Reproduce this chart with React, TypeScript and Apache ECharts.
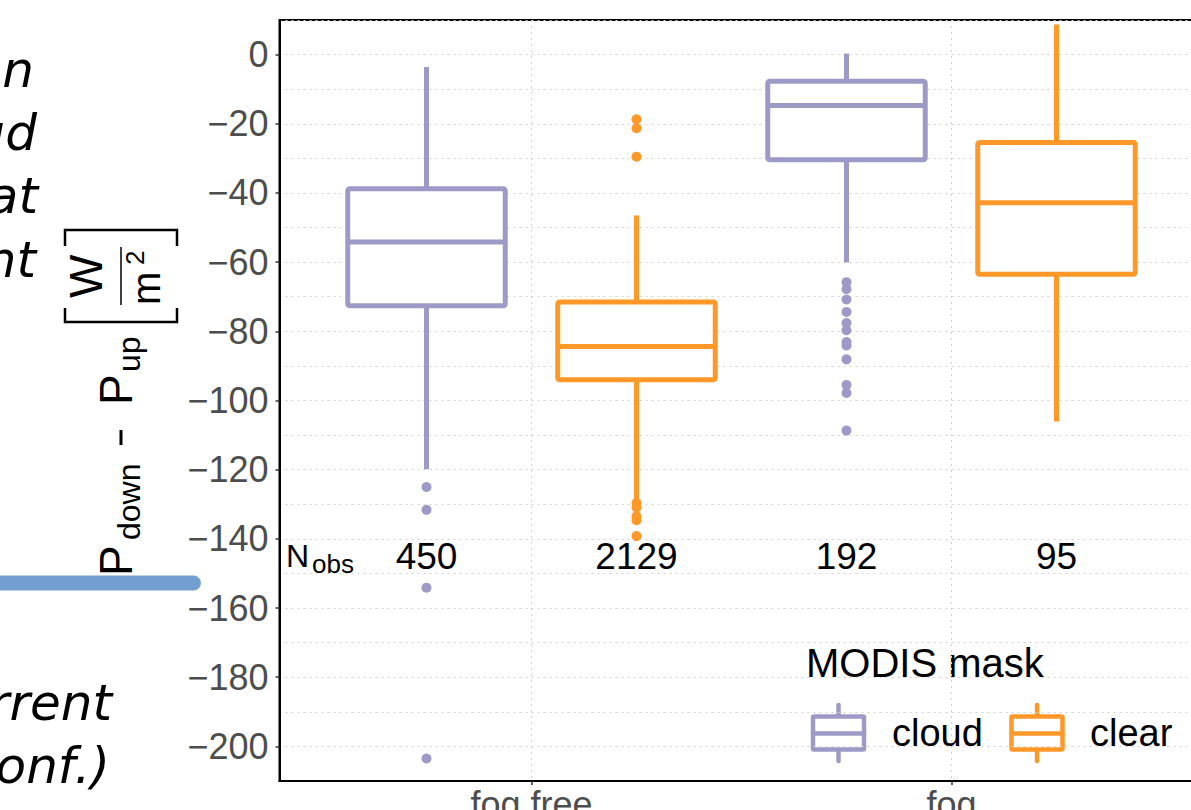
import React, { useEffect, useRef } from "react";
import * as echarts from "echarts";

// ---------- data ----------
const groups = ["fog free", "fog"];
const masks = ["cloud", "clear"];
const maskColors = ["#9e9ac8", "#fe9929"];
const dodge = [-0.25, 0.25];

// [min whisker, Q1, median, Q3, max whisker] for [fog free, fog]
const cloudStats = [
  [-119.9, -72.6, -54.2, -38.8, -3.6],
  [-60.1, -30.4, -14.7, -7.7, 0.3],
];
const clearStats = [
  [-128.5, -94.0, -84.4, -71.5, -46.5],
  [-106.1, -63.5, -42.8, -25.4, 8.7],
];
const cloudOutliers = [
  [-125.0, -131.6, -154.1, -203.5],
  [-65.8, -67.8, -70.8, -74.4, -77.6, -79.7, -83.1, -84.1, -88.1, -95.5, -97.8, -108.7],
];
const clearOutliers = [
  [-18.7, -21.3, -29.5, -129.6, -130.9, -133.5, -134.6, -139.2],
  [],
];
const cloudNobs = [450, 192];
const clearNobs = [2129, 95];
const nobsLevel = -145;

const yTicks = [-200, -180, -160, -140, -120, -100, -80, -60, -40, -20, 0];
const xTicks = [1, 2];

// ---------- helpers ----------
const SANS = '"Liberation Sans", Arial, Helvetica, sans-serif';
const HALF_BOX = 0.1875;

function fmtNum(v: number) {
  return v < 0 ? "\u2212" + Math.abs(v) : String(v);
}

function baseText(
  text: string,
  x: number,
  baseline: number,
  size: number,
  extra: any = {}
) {
  const align = extra.align || "left";
  return {
    type: "text",
    x,
    y: baseline - 0.35 * size,
    style: {
      text,
      fontSize: size,
      fontFamily: extra.fontFamily || SANS,
      fontStyle: extra.fontStyle || "normal",
      fill: extra.fill || "#000",
      align,
      textAlign: align,
      verticalAlign: "middle",
      textVerticalAlign: "middle",
    },
    silent: true,
  };
}

function boxSeries(name: string, stats: number[][], off: number, color: string) {
  return {
    name,
    type: "custom",
    xAxisIndex: 0,
    yAxisIndex: 0,
    encode: { x: 0, y: [1, 2, 3, 4, 5] },
    data: stats.map((s, g) => [g + 1 + off, ...s]),
    z: 3,
    renderItem: (_params: any, api: any) => {
      const x = api.value(0);
      const lo = api.value(1);
      const q1 = api.value(2);
      const med = api.value(3);
      const q3 = api.value(4);
      const hi = api.value(5);
      const pTL = api.coord([x - HALF_BOX, q3]);
      const pBR = api.coord([x + HALF_BOX, q1]);
      const pMed = api.coord([x, med]);
      const yHi = api.coord([x, hi])[1];
      const yLo = api.coord([x, lo])[1];
      const xc = pMed[0];
      const lw = 5;
      return {
        type: "group",
        children: [
          {
            type: "line",
            shape: { x1: xc, y1: yHi, x2: xc, y2: pTL[1] },
            style: { stroke: color, lineWidth: lw },
          },
          {
            type: "line",
            shape: { x1: xc, y1: pBR[1], x2: xc, y2: yLo },
            style: { stroke: color, lineWidth: lw },
          },
          {
            type: "rect",
            shape: {
              x: pTL[0],
              y: pTL[1],
              width: pBR[0] - pTL[0],
              height: pBR[1] - pTL[1],
              r: 2,
            },
            style: { fill: "#ffffff", stroke: color, lineWidth: lw, lineJoin: "round" },
          },
          {
            type: "line",
            shape: { x1: pTL[0], y1: pMed[1], x2: pBR[0], y2: pMed[1] },
            style: { stroke: color, lineWidth: lw },
          },
        ],
      };
    },
  };
}

function outlierSeries(name: string, outs: number[][], off: number, color: string) {
  const data: number[][] = [];
  outs.forEach((arr, g) => arr.forEach((v) => data.push([g + 1 + off, v])));
  return {
    name: name + " outliers",
    type: "scatter",
    xAxisIndex: 0,
    yAxisIndex: 0,
    data,
    symbol: "circle",
    symbolSize: 10,
    itemStyle: { color, opacity: 1 },
    z: 4,
  };
}

function nobsSeries(counts: number[], off: number) {
  return {
    name: "nobs" + off,
    type: "custom",
    xAxisIndex: 0,
    yAxisIndex: 0,
    data: counts.map((n, g) => [g + 1 + off, nobsLevel, n]),
    z: 5,
    renderItem: (_params: any, api: any) => {
      const p = api.coord([api.value(0), api.value(1)]);
      return {
        type: "text",
        x: p[0],
        y: p[1],
        style: {
          text: String(api.value(2)),
          fontSize: 37,
          fontFamily: SANS,
          fill: "#000",
          align: "center",
          textAlign: "center",
          verticalAlign: "middle",
          textVerticalAlign: "middle",
        },
      };
    },
  };
}

function legendIcon(x0: number, color: string) {
  const left = x0;
  const right = x0 + 51;
  const top = 716.5;
  const bottom = 749.5;
  const mid = (left + right) / 2;
  const st = { stroke: color, lineWidth: 4.5, lineCap: "round", lineJoin: "round", fill: null };
  return [
    { type: "line", shape: { x1: mid, y1: 705, x2: mid, y2: top }, style: st, silent: true },
    { type: "line", shape: { x1: mid, y1: bottom, x2: mid, y2: 761 }, style: st, silent: true },
    {
      type: "rect",
      shape: { x: left, y: top, width: right - left, height: bottom - top, r: 1 },
      style: { ...st, fill: "#fff" },
      silent: true,
    },
    { type: "line", shape: { x1: left, y1: 733.5, x2: right, y2: 733.5 }, style: st, silent: true },
  ];
}

function yTitle() {
  const big = 46;
  const sub = 32;
  const ln = { stroke: "#000", lineWidth: 2.5, fill: null };
  return {
    type: "group",
    x: 132,
    y: 573,
    rotation: Math.PI / 2,
    silent: true,
    children: [
      baseText("P", -3, 0, big),
      baseText("down", 33, 8, sub),
      { type: "line", shape: { x1: 128, y1: -11, x2: 143, y2: -11 }, style: { stroke: "#000", lineWidth: 3 } },
      baseText("P", 168, 0, big),
      baseText("up", 201, 8, sub),
      { type: "polyline", shape: { points: [[265, -67], [251, -67], [251, 45], [265, 45]] }, style: ln },
      baseText("W", 275, -30, big),
      { type: "line", shape: { x1: 268, y1: -11, x2: 326, y2: -11 }, style: { stroke: "#000", lineWidth: 1.5 } },
      baseText("m", 268, 28, 40),
      baseText("2", 308, 12, 26),
      { type: "polyline", shape: { points: [[327, -67], [343, -67], [343, 45], [327, 45]] }, style: ln },
    ],
  };
}

const slideFont = '"DejaVu Sans", Verdana, sans-serif';
const slideFragments: [string, number, number][] = [
  ["on", 34, 87],
  ["ud", 37, 150],
  ["at", 38, 213],
  ["nt", 36, 277],
  ["rrent", 112, 720],
  ["onf.)", 110, 783],
];

export default function App() {
  const ref = useRef<HTMLDivElement>(null);

  useEffect(() => {
    if (!ref.current) return;
    const chart = echarts.init(ref.current, null, { renderer: "svg" });

    const series: any[] = [
      boxSeries(masks[0], cloudStats, dodge[0], maskColors[0]),
      boxSeries(masks[1], clearStats, dodge[1], maskColors[1]),
      outlierSeries(masks[0], cloudOutliers, dodge[0], maskColors[0]),
      outlierSeries(masks[1], clearOutliers, dodge[1], maskColors[1]),
      nobsSeries(cloudNobs, dodge[0]),
      nobsSeries(clearNobs, dodge[1]),
    ];

    const gridLine = { color: "#d2d2d2", width: 1, type: [2, 4] };

    const graphics: any[] = [
      ...slideFragments.map(([t, xr, b]) =>
        baseText(t, xr, b, 50, { align: "right", fontStyle: "italic", fontFamily: slideFont })
      ),
      {
        type: "rect",
        shape: { x: -20, y: 575.5, width: 221, height: 15, r: 7.5 },
        style: { fill: "#729fcf" },
        silent: true,
      },
      yTitle(),
      baseText("N", 286, 567, 32),
      baseText("obs", 312, 573, 26),
      baseText("MODIS mask", 806, 677, 40),
      ...legendIcon(813, maskColors[0]),
      baseText(masks[0], 892, 746, 38),
      ...legendIcon(1011.5, maskColors[1]),
      baseText(masks[1], 1090, 746, 38),
    ];

    chart.setOption({
      animation: false,
      backgroundColor: "#ffffff",
      textStyle: { fontFamily: SANS },
      grid: {
        left: 279.5,
        top: 20,
        width: 924,
        height: 761,
        show: true,
        borderColor: "#000",
        borderWidth: 2,
        backgroundColor: "transparent",
        containLabel: false,
        outerBoundsMode: "none",
      },
      xAxis: {
        type: "value",
        min: 0.4,
        max: 2.6,
        axisLine: { show: true, onZero: false, lineStyle: { color: "#000", width: 2 } },
        axisTick: { show: true, customValues: xTicks, length: 4, lineStyle: { color: "#333", width: 1.5 } },
        axisLabel: {
          customValues: xTicks,
          formatter: (v: number) => groups[Math.round(v) - 1] || "",
          fontSize: 36,
          color: "#4d4d4d",
          margin: 5,
          fontFamily: SANS,
        },
        splitLine: { show: true, lineStyle: gridLine },
      },
      yAxis: [
        {
          type: "value",
          min: -210,
          max: 10,
          interval: 10,
          position: "left",
          axisLine: { show: true, onZero: false, lineStyle: { color: "#000", width: 2 } },
          axisTick: { show: false },
          axisLabel: { show: false },
          splitLine: { show: true, lineStyle: gridLine },
        },
        {
          type: "value",
          min: -210,
          max: 10,
          position: "left",
          axisLine: { show: false },
          axisTick: { show: true, customValues: yTicks, length: 4, lineStyle: { color: "#333", width: 1.5 } },
          axisLabel: {
            customValues: yTicks,
            formatter: (v: number) => fmtNum(v),
            fontSize: 36,
            color: "#4d4d4d",
            margin: 11,
            fontFamily: SANS,
          },
          splitLine: { show: false },
        },
      ],
      series,
      graphic: graphics,
    });

    return () => chart.dispose();
  }, []);

  return (
    <div
      style={{
        position: "fixed",
        left: 0,
        top: 0,
        width: 1191,
        height: 810,
        overflow: "hidden",
        background: "#fff",
      }}
    >
      <div ref={ref} style={{ width: 1230, height: 810 }} />
    </div>
  );
}
